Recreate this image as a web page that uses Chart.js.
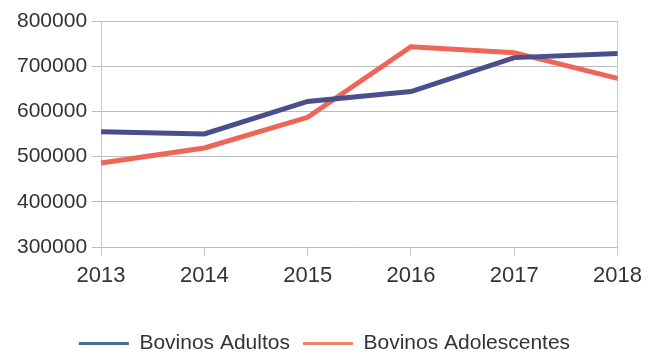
<!DOCTYPE html>
<html>
<head>
<meta charset="utf-8">
<script src="https://cdn.jsdelivr.net/npm/chart.js@4/dist/chart.umd.min.js"></script>
<style>
    html, body { margin: 0; padding: 0; background: #ffffff; }
    #wrap { width: 649px; height: 354px; }
</style>
</head>
<body>
<div id="wrap"><canvas id="bovinosChart" width="649" height="354"></canvas></div>
<script>
const years = ['2013', '2014', '2015', '2016', '2017', '2018'];
const adultos = [555000, 550000, 622000, 644000, 719000, 728000];
const adolescentes = [486000, 519000, 587000, 743000, 730000, 673000];
const yTicks = [300000, 400000, 500000, 600000, 700000, 800000];

const legendColors = ['#46708f', '#ef8468'];

document.addEventListener('DOMContentLoaded', function () {
    const ctx = document.getElementById('bovinosChart').getContext('2d');
    new Chart(ctx, {
        type: 'line',
        data: {
            labels: years,
            datasets: [
                {
                    label: 'Bovinos Adultos',
                    data: adultos,
                    borderColor: '#4a4e8a',
                    borderWidth: 5,
                    pointRadius: 0,
                    tension: 0,
                    fill: false
                },
                {
                    label: 'Bovinos Adolescentes',
                    data: adolescentes,
                    borderColor: '#ee6655',
                    borderWidth: 5,
                    pointRadius: 0,
                    tension: 0,
                    fill: false
                }
            ]
        },
        options: {
            responsive: false,
            animation: false,
            layout: { padding: { left: 12, right: 12, top: 21, bottom: -10 } },
            plugins: {
                tooltip: { enabled: false },
                legend: {
                    position: 'bottom',
                    labels: {
                        font: { family: 'Liberation Sans', size: 21 },
                        color: '#333333',
                        boxWidth: 50,
                        boxHeight: 3,
                        padding: 13,
                        generateLabels: function (chart) {
                            return chart.data.datasets.map(function (ds, i) {
                                return {
                                    text: ds.label,
                                    fillStyle: legendColors[i],
                                    strokeStyle: legendColors[i],
                                    lineWidth: 0,
                                    datasetIndex: i,
                                    fontColor: '#333333'
                                };
                            });
                        }
                    }
                }
            },
            scales: {
                x: {
                    offset: false,
                    grid: { drawOnChartArea: false, color: '#c8c8c8', tickLength: 9 },
                    border: { display: false },
                    ticks: {
                        font: { family: 'Liberation Sans', size: 22 },
                        color: '#333333',
                        padding: 7,
                        maxRotation: 0
                    },
                    afterFit: function (axis) {
                        axis.height = 73;
                    }
                },
                y: {
                    min: 300000,
                    max: 800000,
                    afterBuildTicks: function (axis) {
                        axis.ticks = yTicks.map(function (v) { return { value: v }; });
                    },
                    grid: { color: '#bcbcbc', tickLength: 9 },
                    border: { display: true, color: '#c8c8c8' },
                    ticks: {
                        font: { family: 'Liberation Sans', size: 21 },
                        color: '#333333',
                        padding: 5,
                        callback: function (value) { return String(value); }
                    }
                },
                yRight: {
                    position: 'right',
                    min: 300000,
                    max: 800000,
                    grid: { display: false },
                    ticks: { display: false },
                    border: { display: true, color: '#c8c8c8' },
                    afterFit: function (axis) {
                        axis.width = 0;
                    }
                }
            }
        }
    });
});
</script>
</body>
</html>
